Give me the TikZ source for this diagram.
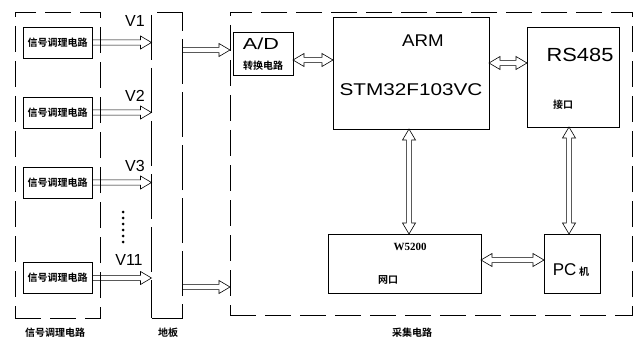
\documentclass[tikz,border=0pt]{standalone}
\usepackage{fontspec}
\setmainfont{Liberation Sans}
\newfontfamily\cjk{Noto Sans CJK SC}[BoldFont={* Bold}]
\newfontfamily\serifw{Liberation Serif}
\usetikzlibrary{calc}
% hollow block arrow, one head: #1 start, #2 end
\newcommand\blkarrow[2]{%
  \draw[blk] let \p1=(#1), \p2=(#2), \n1={atan2(\y2-\y1,\x2-\x1)}, \n2={veclen(\x2-\x1,\y2-\y1)} in
    [shift={(\p1)}, rotate=\n1]
    (0pt,2.6pt) -- ({(\n2-11)*1pt},2.6pt) -- ({(\n2-11)*1pt},6.5pt) -- ({\n2*1pt},0pt)
    -- ({(\n2-11)*1pt},-6.5pt) -- ({(\n2-11)*1pt},-2.6pt) -- (0pt,-2.6pt);}
% hollow block arrow, two heads
\newcommand\blkbiarrow[2]{%
  \draw[blk] let \p1=(#1), \p2=(#2), \n1={atan2(\y2-\y1,\x2-\x1)}, \n2={veclen(\x2-\x1,\y2-\y1)} in
    [shift={(\p1)}, rotate=\n1]
    (11pt,2.6pt) -- ({(\n2-11)*1pt},2.6pt) -- ({(\n2-11)*1pt},6.5pt) -- ({\n2*1pt},0pt)
    -- ({(\n2-11)*1pt},-6.5pt) -- ({(\n2-11)*1pt},-2.6pt) -- (11pt,-2.6pt)
    -- (11pt,-6.5pt) -- (0pt,0pt) -- (11pt,6.5pt) -- cycle;}
\begin{document}
\begin{tikzpicture}[x=1pt,y=-1pt,
  every node/.style={inner sep=0pt, outer sep=0pt},
  blk/.style={draw, line width=0.6pt, line join=miter},
  lbl/.style={font=\cjk\bfseries\fontsize{10}{10}\selectfont},
  boxd/.style={draw, line width=0.7pt},
  dashbox/.style={draw, line width=0.7pt, dash pattern=on 26pt off 9pt},
  sig/.style={boxd, minimum width=69pt, minimum height=31pt, font=\cjk\bfseries\fontsize{10}{10}\selectfont},
  vtxt/.style={font=\fontsize{16}{16}\selectfont}
]
\useasboundingbox (0,0) rectangle (637,342);
% outer dashed boxes
\node[dashbox, minimum width=85pt, minimum height=306pt] (lb) at (57.5,165) {};
\node[draw, line width=0.7pt, dash pattern=on 45pt off 8pt, minimum width=31pt, minimum height=306pt] (bp) at (167,165) {};
\node[dashbox, minimum width=402pt, minimum height=303pt] (acq) at (431,163.5) {};
% signal boxes
\node[sig] (s1) at (57.5,42.5) {信号调理电路};
\node[sig] (s2) at (57.5,112.5) {信号调理电路};
\node[sig] (s3) at (57.5,182.5) {信号调理电路};
\node[sig] (s4) at (57.5,278) {信号调理电路};
\coordinate (e1) at (s1.east -| bp.west);
\coordinate (e2) at (s2.east -| bp.west);
\coordinate (e3) at (s3.east -| bp.west);
\coordinate (e4) at (s4.east -| bp.west);
\blkarrow{s1.east}{e1}
\blkarrow{s2.east}{e2}
\blkarrow{s3.east}{e3}
\blkarrow{s4.east}{e4}
\node[vtxt] (v1) at (135,21) {V1};
\node[vtxt] (v2) at (135,96) {V2};
\node[vtxt] (v3) at (135,166) {V3};
\node[vtxt] (v11) at (129,260) {V11};
% dots
\foreach \i in {0,...,5} \fill (123,{212+\i*6}) circle (1.5pt);
% A/D
\node[boxd, minimum width=60pt, minimum height=43pt] (ad) at (263,53.5) {};
\node[font=\fontsize{16}{16}\selectfont, xscale=1.35] (adt) at (261,44) {A/D};
\node[lbl] (adl) at (263,66) {转换电路};
% ARM
\node[boxd, minimum width=156pt, minimum height=112pt] (arm) at (411,73) {};
\node[font=\fontsize{17}{17}\selectfont, xscale=1.1] (armt) at (423,41) {ARM};
\node[font=\fontsize{17}{17}\selectfont, xscale=1.22] (stm) at (411,90) {STM32F103VC};
% RS485
\node[boxd, minimum width=92pt, minimum height=100pt] (rs) at (573,77) {};
\node[font=\fontsize{19}{19}\selectfont, xscale=1.15] (rst) at (580,55) {RS485};
\node[lbl] (rsl) at (563,105) {接口};
% W5200
\node[boxd, minimum width=153pt, minimum height=59pt] (w) at (404.5,263.5) {};
\node[font=\serifw\bfseries\fontsize{11}{11}\selectfont] (wt) at (410,247) {W5200};
\node[lbl] (wl) at (388,280) {网口};
% PC
\node[boxd, minimum width=56pt, minimum height=59pt] (pc) at (572,263.5) {};
\node (pct) at (571,270) {\fontsize{17}{17}\selectfont PC\,\cjk\bfseries\fontsize{10}{10}\selectfont 机};
% connectors
\coordinate (bpa) at (bp.east |- 0,50);
\coordinate (bpb) at (bp.east |- 0,287);
\coordinate (aca) at (acq.west |- 0,50);
\coordinate (acb) at (acq.west |- 0,287);
\blkarrow{bpa}{aca}
\blkarrow{bpb}{acb}
\coordinate (c1a) at (ad.east |- 0,60);   \coordinate (c1b) at (arm.west |- 0,60);
\coordinate (c2a) at (arm.east |- 0,63);  \coordinate (c2b) at (rs.west |- 0,63);
\coordinate (c3a) at (arm.south -| 409,0); \coordinate (c3b) at (w.north -| 409,0);
\coordinate (c4a) at (rs.south -| 569,0);  \coordinate (c4b) at (pc.north -| 569,0);
\coordinate (c5a) at (w.east |- 0,260);   \coordinate (c5b) at (pc.west |- 0,260);
\blkbiarrow{c1a}{c1b}
\blkbiarrow{c2a}{c2b}
\blkbiarrow{c3a}{c3b}
\blkbiarrow{c4a}{c4b}
\blkbiarrow{c5a}{c5b}
% bottom labels
\node[lbl] (l1) at (55,333) {信号调理电路};
\node[lbl] (l2) at (168,333) {地板};
\node[lbl] (l3) at (412,333) {采集电路};
\end{tikzpicture}
\end{document}
